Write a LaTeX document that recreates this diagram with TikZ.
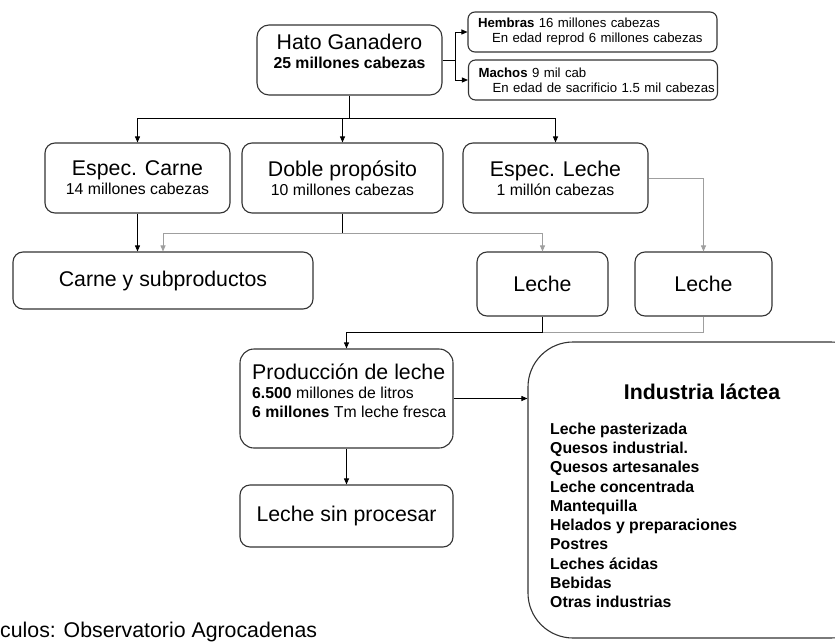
\documentclass[tikz,border=0pt]{standalone}
\usepackage{fontspec}
\setmainfont{Liberation Sans}
\usepackage{tikz}
\usetikzlibrary{positioning,arrows.meta,calc}

\newcommand{\fntbig}{\fontsize{21.3}{24}\selectfont}
\newcommand{\fntmid}{\fontsize{15.8}{19}\selectfont}
\newcommand{\fntsmall}{\fontsize{13.2}{15}\selectfont}
\newcommand{\fntlist}{\fontsize{15.8}{19.3}\selectfont\bfseries}

\begin{document}
\begin{tikzpicture}[x=1pt,y=-1pt,
  every node/.style={font=\fntmid},
  box/.style={draw=black!80,line width=1.1pt,rounded corners=10pt,align=center,inner sep=0pt},
  smallbox/.style={box,rounded corners=7pt,align=left,text width=229pt,inner xsep=10pt,font=\fntsmall,minimum height=40pt},
  link/.style={line width=0.9pt,black},
  arr/.style={link,-{Triangle[length=6pt,width=5pt]}},
  pale/.style={gray!75}
]
  \path[use as bounding box] (0,0) rectangle (835,642);
  \clip (0,0) rectangle (835,642);

  \node[box,minimum width=185pt,minimum height=70pt,rounded corners=12pt] (hato) at (349.5,60) {};
  \node[anchor=north,align=center,inner sep=0pt] (hatoT) at (349.5,34) {{\fntbig Hato Ganadero}\\\bfseries 25 millones cabezas};
  \node[smallbox] (hemb) at (592.5,32) {\textbf{Hembras} 16 millones cabezas\\\mbox{\hspace*{14pt}En edad reprod 6 millones cabezas}};
  \node[smallbox] (mach) at (593,80) {\textbf{Machos} 9 mil cab\\\mbox{\hspace*{14pt}En edad de sacrificio 1.5 mil cabezas}};

  \node[box,minimum width=185pt,minimum height=70pt] (carne) at (137.5,178) {{\fntbig Espec. Carne}\\14 millones cabezas};
  \node[box,minimum width=201pt,minimum height=70pt] (doble) at (342.5,178) {{\fntbig Doble propósito}\\10 millones cabezas};
  \node[box,minimum width=185pt,minimum height=70pt] (espl) at (555.5,178) {{\fntbig Espec. Leche}\\1 millón cabezas};

  \node[box,font=\fntbig,minimum width=300pt,minimum height=57pt] (csub) at (163,280.5) {Carne y subproductos};
  \node[box,font=\fntbig,minimum width=131pt,minimum height=64pt] (lechm) at (542.5,284) {Leche};
  \node[box,font=\fntbig,minimum width=137pt,minimum height=64pt] (lechr) at (703.5,284) {Leche};

  \node[box,minimum width=213pt,minimum height=99pt,rounded corners=14pt] (prod) at (346.5,398.5) {};
  \node[anchor=north west,align=left,inner sep=0pt] (prodT) at (252,364) {{\fntbig Producción de leche}\\\textbf{6.500} millones de litros\\\textbf{6 millones} Tm leche fresca};
  \node[box,font=\fntbig,minimum width=213pt,minimum height=62pt] (lsp) at (346.5,516) {Leche sin procesar};

  \node[box,minimum width=348pt,minimum height=296pt,rounded corners=45pt] (ind) at (702,490) {};
  \node[font=\fntbig\bfseries,anchor=base,inner sep=0pt] (indT) at (702,399.6) {Industria láctea};
  \node[font=\fntlist,anchor=north west,align=left,inner sep=0pt] (indL) at (550,422.5) {Leche pasterizada\\Quesos industrial.\\Quesos artesanales\\Leche concentrada\\Mantequilla\\Helados y preparaciones\\Postres\\Leches ácidas\\Bebidas\\Otras industrias};

  \node[font=\fntbig,anchor=west,inner sep=0pt] (src) at (0,632) {culos: Observatorio Agrocadenas};

  \draw[link] (hato.east) -- ++(13,0) coordinate (hj1);
  \draw[arr] (hj1) |- (hemb.west);
  \draw[arr] (hj1) |- (mach.west);
  \draw[link] (hato.south) -- ++(0,23) coordinate (hj2);
  \foreach \n in {carne,doble,espl} \draw[arr] (hj2) -| (\n.north);
  \draw[arr] (carne.south) -- (carne.south |- csub.north);
  \draw[link] (doble.south) -- ++(0,20) coordinate (dj);
  \draw[arr,pale] (dj) -| (csub.north);
  \draw[arr,pale] (dj) -| (lechm.north);
  \draw[arr,pale] (espl.east) -| (lechr.north);
  \draw[link] (lechm.south) -- ++(0,16) coordinate (lj);
  \draw[link,pale] (lechr.south) |- (lj);
  \draw[arr] (lj) -| (prod.north);
  \draw[arr] (prod.east) -- (prod.east -| ind.west);
  \draw[arr] (prod.south) -- (lsp.north);
\end{tikzpicture}
\end{document}
